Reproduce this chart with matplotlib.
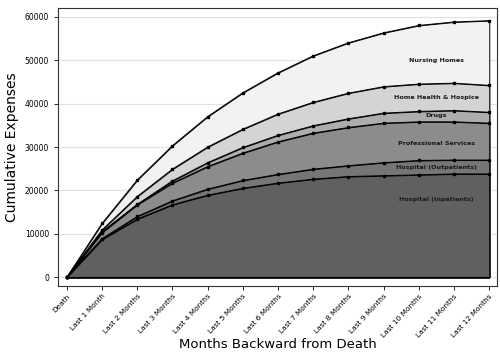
import numpy as np
import matplotlib.pyplot as plt

months = ["Death", "Last 1 Month", "Last 2 Months", "Last 3 Months", "Last 4 Months",
          "Last 5 Months", "Last 6 Months", "Last 7 Months", "Last 8 Months",
          "Last 9 Months", "Last 10 Months", "Last 11 Months", "Last 12 Months"]

# cumulative (stacked) totals
inpatients = [0, 8700, 13400, 16700, 18900, 20500, 21700, 22600, 23200, 23400, 23600, 23800, 23800]
outpatients = [0, 8900, 14000, 17600, 20300, 22300, 23700, 24900, 25700, 26400, 26900, 27000, 27000]
professional = [0, 10300, 16700, 21700, 25500, 28600, 31200, 33200, 34500, 35500, 35800, 35800, 35500]
drugs = [0, 10500, 16800, 22200, 26400, 29900, 32700, 34900, 36500, 37800, 38200, 38400, 38000]
home_health = [0, 10900, 18600, 24900, 30000, 34100, 37600, 40300, 42400, 43900, 44500, 44700, 44200]
nursing = [0, 12400, 22400, 30300, 37000, 42500, 47100, 51000, 54000, 56300, 58000, 58800, 59100]

layers = [inpatients, outpatients, professional, drugs, home_health, nursing]
colors = ["#606060", "#767676", "#8c8c8c", "#adadad", "#d4d4d4", "#f2f2f2"]
labels = ["Hospital (Inpatients)", "Hospital (Outpatients)", "Professional Services",
          "Drugs", "Home Health & Hospice", "Nursing Homes"]
label_y = [18000, 25200, 30900, 37200, 41500, 50000]

x = np.arange(len(months))

fig = plt.figure(figsize=(5, 3.57), dpi=100)
ax = fig.add_axes([0.116, 0.199, 0.878, 0.779])

ax.set_xlim(-0.25, 12.22)
ax.set_ylim(-2000, 62050)
ax.set_yticks([0, 10000, 20000, 30000, 40000, 50000, 60000])
for t in ax.get_yticks():
    ax.axhline(t, color="#e2e2e2", lw=0.8, zorder=0)

# draw from the top down so lower layers sit over higher ones
for vals, c in reversed(list(zip(layers, colors))):
    ax.fill_between(x, 0, vals, facecolor=c, edgecolor="black", lw=0.7, zorder=2)
for vals in layers:
    ax.plot(x, vals, color="black", lw=0.7, marker="s", ms=1.6, zorder=3)
ax.axhline(0, xmin=0.02, xmax=0.98, color="black", lw=0.8, zorder=3)

for lab, ly in zip(labels, label_y):
    ax.text(10.5, ly, lab, ha="center", va="center", fontsize=4.6,
            fontweight="bold", color="#1a1a1a", zorder=4)

ax.set_xticks(x)
ax.set_xticklabels(months, rotation=47, ha="right", rotation_mode="anchor", fontsize=5.3)
ax.tick_params(axis="y", labelsize=5.5, length=3, width=0.6)
ax.tick_params(axis="x", length=3, width=0.6, pad=2)
for s in ax.spines.values():
    s.set_linewidth(0.8)
    s.set_color("#333333")

ax.set_ylabel("Cumulative Expenses", fontsize=10)
ax.set_xlabel("Months Backward from Death", fontsize=9.5, labelpad=0)

fig.savefig("out.png", dpi=100)
